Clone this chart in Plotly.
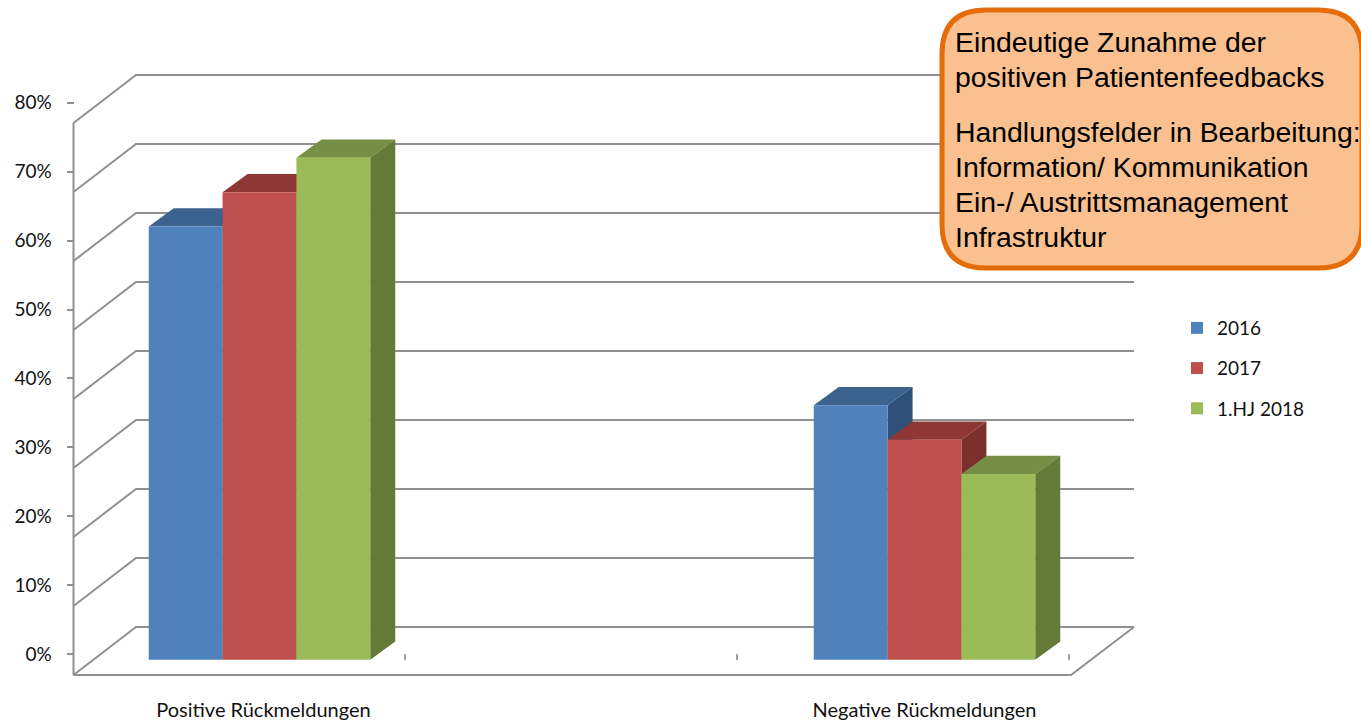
import plotly.graph_objects as go

categories = ["Positive Rückmeldungen", "Negative Rückmeldungen"]
series_names = ["2016", "2017", "1.HJ 2018"]
values_2016 = [63, 37]
values_2017 = [68, 32]
values_2018 = [73, 27]
grid_values = [0, 10, 20, 30, 40, 50, 60, 70, 80]
tick_labels = ["0%", "10%", "20%", "30%", "40%", "50%", "60%", "70%", "80%"]
callout_lines = [
    "Eindeutige Zunahme der",
    "positiven Patientenfeedbacks",
    "Handlungsfelder in Bearbeitung:",
    "Information/ Kommunikation",
    "Ein-/ Austrittsmanagement",
    "Infrastruktur",
]

W, H = 1361, 722
PX_PER_CAT, PX_PER_PCT = 665.0, 6.875
GRID_PX_PER_PCT = 6.9
X0_PX, Y0_PX = 259.5, 659.7

front = ["#4F81BD", "#C0504D", "#9BBB59"]
top = ["#3C628F", "#8E3735", "#778F45"]
side = ["#2F5078", "#7B302E", "#647A38"]
GRID = "#909090"
FONT = "Lato"

def xd(px):
    return (px - X0_PX) / PX_PER_CAT

def yoff(px):
    return (Y0_PX - px) / PX_PER_PCT

xr = [xd(0), xd(W)]
yr = [yoff(H), yoff(0)]
x_pos = list(range(len(categories)))
all_values = [values_2016, values_2017, values_2018]
bar_w = 73.83 / PX_PER_CAT
dx = 25 / PX_PER_CAT
dy = 18.3 / PX_PER_PCT
gs = GRID_PX_PER_PCT / PX_PER_PCT

fig = go.Figure()

# walls, floor and grid lines
gx, gy = [], []
for v in grid_values:
    gx += [xd(73.5), xd(136), xd(1134), None]
    gy += [v * gs + yoff(675), v * gs + yoff(627), v * gs + yoff(627), None]
gx += [xd(73.5), xd(73.5), None, xd(73.5), xd(1071), xd(1134)]
gy += [grid_values[0] * gs + yoff(675), grid_values[-1] * gs + yoff(675), None,
       grid_values[0] * gs + yoff(675), grid_values[0] * gs + yoff(675), grid_values[0] * gs + yoff(627)]
fig.add_trace(go.Scatter(x=gx, y=gy, mode="lines", line=dict(color=GRID, width=2),
                         hoverinfo="skip", showlegend=False, xaxis="x", yaxis="y"))

# top and side faces of the bars
for i, vals in enumerate(all_values):
    tx, ty, sx, sy = [], [], [], []
    for c, v in zip(x_pos, vals):
        l = c + (i - 1.5) * bar_w
        r = l + bar_w
        tx += [l, r, r + dx, l + dx, l, None]
        ty += [v, v, v + dy, v + dy, v, None]
        sx += [r, r + dx, r + dx, r, r, None]
        sy += [0, dy, v + dy, v, 0, None]
    for fx, fy, col in ((tx, ty, top[i]), (sx, sy, side[i])):
        fig.add_trace(go.Scatter(x=fx, y=fy, mode="lines", fill="toself", fillcolor=col,
                                 line=dict(width=0), hoverinfo="skip", showlegend=False,
                                 xaxis="x", yaxis="y"))

# front faces
for i, vals in enumerate(all_values):
    fig.add_trace(go.Bar(x=x_pos, y=vals, name=series_names[i], marker=dict(color=front[i], line=dict(width=0)),
                         xaxis="x2", yaxis="y2", legendgroup=series_names[i],
                         hovertemplate="%{y}%<extra>" + series_names[i] + "</extra>"))

# carrier for the percent axis
fig.add_trace(go.Scatter(x=[None] * len(grid_values), y=grid_values, mode="markers", marker=dict(opacity=0),
                         hoverinfo="skip", showlegend=False, xaxis="x", yaxis="y3"))

TICK_Y0, TICK_SCALE = 654.0, 6.89
fig.update_layout(
    width=W, height=H, margin=dict(l=0, r=0, t=0, b=0),
    paper_bgcolor="white", plot_bgcolor="white",
    barmode="group", bargap=1 - 3 * bar_w, bargroupgap=0,
    font=dict(family=FONT, size=19, color="#111111"),
    xaxis=dict(range=xr, domain=[0, 1], anchor="free", position=(H - Y0_PX) / H,
               tickmode="array", tickvals=[xd(405), xd(737), xd(1069)], showticklabels=False,
               ticks="inside", ticklen=6, tickwidth=1.5, tickcolor="#A0A0A0",
               showgrid=False, zeroline=False, showline=False),
    yaxis=dict(range=yr, domain=[0, 1], visible=False),
    xaxis2=dict(range=xr, overlaying="x", anchor="free", position=(H - 696) / H,
                tickmode="array", tickvals=[x_pos[0] + 0.006, x_pos[1]], ticktext=categories,
                ticks="", showgrid=False, zeroline=False, showline=False,
                tickfont=dict(family=FONT, size=20, color="#111111")),
    yaxis2=dict(range=yr, overlaying="y", visible=False),
    yaxis3=dict(range=[(TICK_Y0 - H) / TICK_SCALE, TICK_Y0 / TICK_SCALE], overlaying="y", anchor="free",
                position=73.5 / W, side="left",
                tickmode="array", tickvals=grid_values, ticktext=tick_labels,
                ticks="outside", ticklen=7, tickwidth=1.5, tickcolor=GRID, ticklabelstandoff=11,
                showgrid=False, zeroline=False, showline=False,
                tickfont=dict(family=FONT, size=19, color="#111111")),
    legend=dict(x=1177 / W, y=(H - 309) / H, xanchor="left", yanchor="top", tracegroupgap=12.5,
                traceorder="grouped", font=dict(family=FONT, size=19, color="#111111"),
                bgcolor="rgba(0,0,0,0)"),
    hovermode="closest",
)

# callout box
def px(x):
    return x / W

def py(y):
    return (H - y) / H

L, T, R, B, C = 942, 10, 1362, 268, 44
path = (f"M {px(L + C)} {py(T)} L {px(R - C)} {py(T)} Q {px(R)} {py(T)} {px(R)} {py(T + C)} "
        f"L {px(R)} {py(B - C)} Q {px(R)} {py(B)} {px(R - C)} {py(B)} "
        f"L {px(L + C)} {py(B)} Q {px(L)} {py(B)} {px(L)} {py(B - C)} "
        f"L {px(L)} {py(T + C)} Q {px(L)} {py(T)} {px(L + C)} {py(T)} Z")
fig.add_shape(type="path", path=path, xref="paper", yref="paper", layer="above",
              fillcolor="#FAC090", line=dict(color="#E46C0A", width=5))

line_centers = [42, 77, 132, 167, 202, 237]
for text, yc in zip(callout_lines, line_centers):
    fig.add_annotation(text=text, xref="paper", yref="paper", x=px(955), y=py(yc),
                       xanchor="left", yanchor="middle", showarrow=False, align="left",
                       borderpad=0, borderwidth=0,
                       font=dict(family="Liberation Sans", size=28.4, color="#000000"))

fig.write_html("out.html", config={"displayModeBar": False},
               post_script="document.body.style.margin='0';document.body.style.overflow='hidden';")
